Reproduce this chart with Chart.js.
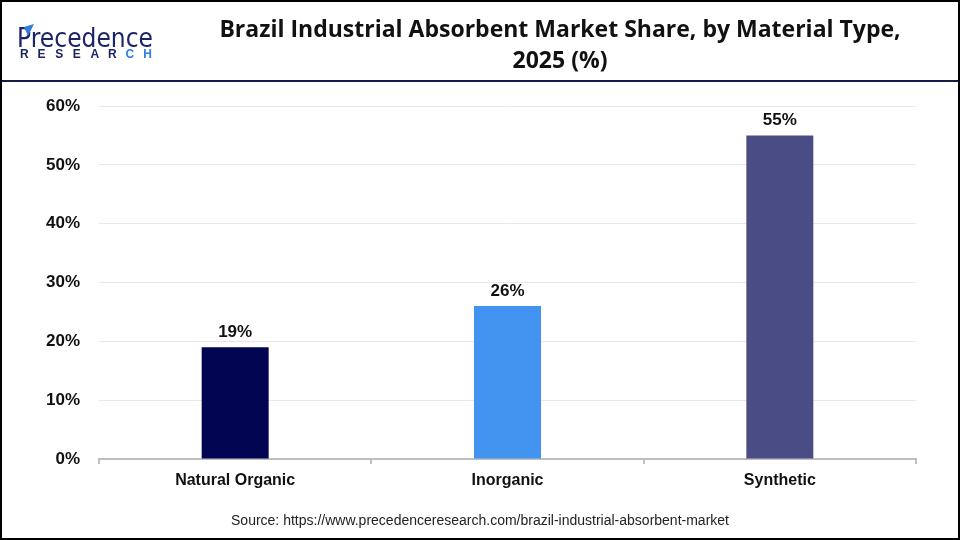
<!DOCTYPE html>
<html><head><meta charset="utf-8">
<script src="https://cdn.jsdelivr.net/npm/chart.js@4/dist/chart.umd.min.js"></script>
<style>html,body{margin:0;padding:0;background:#fff}#wrap{width:960px;height:540px;position:relative}</style>
</head><body><div id="wrap"><canvas id="c" width="960" height="540"></canvas></div>
<script>
const categories = ["Natural Organic", "Inorganic", "Synthetic"];
const shares = [19, 26, 55];
const barColors = ["#020652", "#4394F0", "#4A4C86"];
const yTicks = [0, 10, 20, 30, 40, 50, 60];
const titleLines = ["Brazil Industrial Absorbent Market Share, by Material Type,", "2025 (%)"];
const sourceText = "Source: https://www.precedenceresearch.com/brazil-industrial-absorbent-market";

const FONT = "'Liberation Sans', Arial, sans-serif";

const decor = {
  id: 'decor',
  afterDraw(chart) {
    const ctx = chart.ctx;
    ctx.save();
    // title
    ctx.fillStyle = '#111';
    ctx.font = "bold 23px 'Open Sans', " + FONT;
    ctx.textAlign = 'center';
    ctx.textBaseline = 'middle';
    ctx.fillText(titleLines[0], 560, 30);
    ctx.fillText(titleLines[1], 560, 61);
    // logo
    ctx.textAlign = 'left';
    ctx.textBaseline = 'alphabetic';
    ctx.save();
    ctx.font = "26px 'DejaVu Sans', " + FONT;
    const w = ctx.measureText("Precedence").width;
    ctx.translate(17, 47);
    ctx.scale(136 / w, 1);
    ctx.fillStyle = '#1b2466';
    ctx.fillText("Precedence", 0, 0);
    ctx.restore();
    ctx.fillStyle = '#2f7de0';
    ctx.beginPath();
    ctx.moveTo(24, 27); ctx.lineTo(34, 24); ctx.lineTo(28, 36); ctx.closePath(); ctx.fill();
    ctx.font = "bold 12px " + FONT;
    const letters = "RESEARCH".split("");
    letters.forEach((l, i) => {
      ctx.fillStyle = i >= 6 ? '#2f7de0' : '#1b2466';
      ctx.fillText(l, 20 + i * 17.6, 58);
    });
    // header line
    ctx.strokeStyle = '#141a4a';
    ctx.lineWidth = 2;
    ctx.beginPath(); ctx.moveTo(0, 81); ctx.lineTo(960, 81); ctx.stroke();
    // border
    ctx.strokeStyle = '#000';
    ctx.lineWidth = 2;
    ctx.strokeRect(1, 1, 958, 538);
    // source
    ctx.fillStyle = '#222';
    ctx.font = "14px " + FONT;
    ctx.textAlign = 'center';
    ctx.textBaseline = 'middle';
    ctx.fillText(sourceText, 480, 521);
    // data labels
    const meta = chart.getDatasetMeta(0);
    ctx.font = "bold 17px " + FONT;
    ctx.fillStyle = '#111';
    ctx.textBaseline = 'alphabetic';
    meta.data.forEach((bar, i) => {
      ctx.fillText(shares[i] + "%", bar.x, bar.y - 10);
    });
    ctx.restore();
  }
};

new Chart(document.getElementById('c'), {
  type: 'bar',
  data: {
    labels: categories,
    datasets: [{ data: shares, backgroundColor: barColors, categoryPercentage: 1, barPercentage: 0.246 }]
  },
  plugins: [decor],
  options: {
    responsive: false,
    animation: false,
    layout: { padding: { left: 0, right: 44, top: 106, bottom: 0 } },
    plugins: { legend: { display: false }, tooltip: { enabled: false } },
    scales: {
      x: {
        afterFit(s) { s.height = 81; },
        grid: { drawOnChartArea: false, drawTicks: true, tickLength: 5, color: '#c0c0c0', lineWidth: 2, offset: true },
        border: { color: '#bfbfbf', width: 2 },
        ticks: { color: '#111', font: { family: FONT, size: 16, weight: 'bold' }, padding: 7 }
      },
      y: {
        min: 0, max: 60,
        afterFit(s) { s.width = 99; },
        afterBuildTicks(s) { s.ticks = yTicks.map(v => ({ value: v })); },
        grid: { color: '#e8e8e8', lineWidth: 1, drawTicks: false },
        border: { display: false },
        ticks: { color: '#111', font: { family: FONT, size: 17, weight: 'bold' }, padding: 19, callback: v => v + '%' }
      }
    }
  }
});
</script></body></html>
